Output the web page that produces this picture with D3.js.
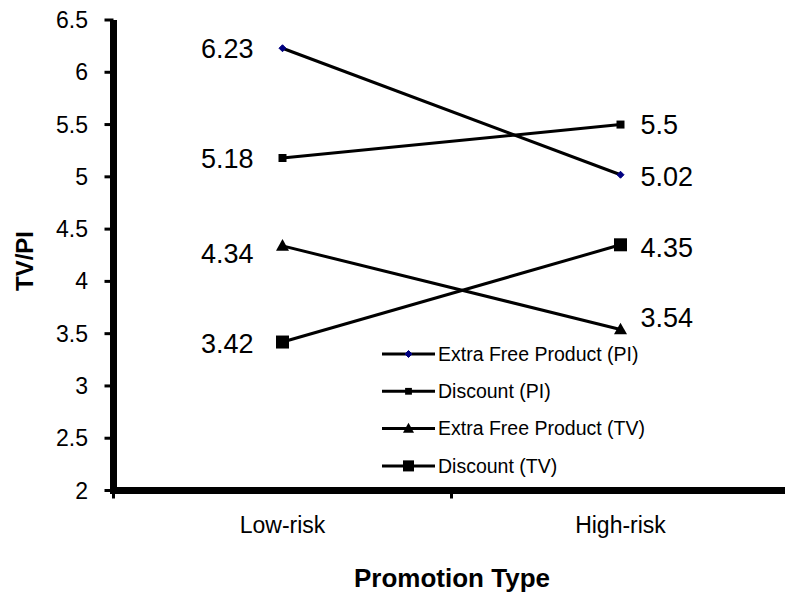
<!DOCTYPE html>
<html><head><meta charset="utf-8">
<script src="https://cdn.jsdelivr.net/npm/d3@7"></script>
<style>body{margin:0;background:#fff}svg{display:block}text{font-family:Arial,"Liberation Sans",sans-serif;fill:#000}</style>
</head><body><svg id="c" width="785" height="593"></svg>
<script>
const categories = ["Low-risk", "High-risk"];
const seriesNames = ["Extra Free Product (PI)", "Discount (PI)", "Extra Free Product (TV)", "Discount (TV)"];
const extraPI = [6.23, 5.02];
const discountPI = [5.18, 5.5];
const extraTV = [4.34, 3.54];
const discountTV = [3.42, 4.35];
const yTicks = [2, 2.5, 3, 3.5, 4, 4.5, 5, 5.5, 6, 6.5];

const series = [
  {name: seriesNames[0], values: extraPI, marker: "diamond", size: 7, fill: "#000080", ldy: [0, 2]},
  {name: seriesNames[1], values: discountPI, marker: "square", size: 8, fill: "#000", ldy: [0, 0]},
  {name: seriesNames[2], values: extraTV, marker: "triangle", size: 13, fill: "#000", ldy: [7, -12]},
  {name: seriesNames[3], values: discountTV, marker: "square", size: 13, fill: "#000", ldy: [1, 2]}
];

const svg = d3.select("#c");
const axX = 113.5, axY = 490.5;
const x = d3.scaleBand().domain(categories).range([axX, axX + 676]);
const y = d3.scaleLinear().domain([2, 6.5]).range([axY, 20]);

// y ticks
svg.append("g").selectAll("line").data(yTicks).join("line")
  .attr("x1", axX - 9).attr("x2", axX).attr("y1", d => y(d)).attr("y2", d => y(d))
  .attr("stroke", "#000").attr("stroke-width", 3);
svg.append("g").selectAll("text").data(yTicks).join("text")
  .attr("x", 88).attr("y", d => y(d)).attr("dy", "0.35em").attr("text-anchor", "end")
  .attr("font-size", 23).text(d => d);

// x ticks at band boundaries
const bounds = [x.range()[0], x("High-risk"), x.range()[1]];
svg.append("g").selectAll("line").data(bounds).join("line")
  .attr("x1", d => d).attr("x2", d => d).attr("y1", axY).attr("y2", axY + 8)
  .attr("stroke", "#000").attr("stroke-width", 3);

// axes lines
svg.append("line").attr("x1", axX).attr("x2", axX).attr("y1", 20).attr("y2", axY + 3.5)
  .attr("stroke", "#000").attr("stroke-width", 7);
svg.append("line").attr("x1", axX - 3.5).attr("x2", 790).attr("y1", axY).attr("y2", axY)
  .attr("stroke", "#000").attr("stroke-width", 7);

// category labels
svg.append("g").selectAll("text").data(categories).join("text")
  .attr("x", d => x(d) + x.bandwidth() / 2).attr("y", 533).attr("text-anchor", "middle")
  .attr("font-size", 23).text(d => d);

svg.append("text").attr("x", 452).attr("y", 587).attr("text-anchor", "middle")
  .attr("font-size", 26).attr("font-weight", "bold").text("Promotion Type");
svg.append("text").attr("transform", "translate(33,261) rotate(-90)").attr("text-anchor", "middle")
  .attr("font-size", 24).attr("font-weight", "bold").text("TV/PI");

function markerPath(type, size) {
  const s = size / 2;
  if (type === "diamond") return `M0,${-s}L${s},0L0,${s}L${-s},0Z`;
  if (type === "triangle") return `M0,${-s * 1.05}L${s},${s * 0.75}L${-s},${s * 0.75}Z`;
  return `M${-s},${-s}H${s}V${s}H${-s}Z`;
}
const cx = c => x(c) + x.bandwidth() / 2;
const line = d3.line().x((d, i) => cx(categories[i])).y(d => y(d));

series.forEach(s => {
  const g = svg.append("g");
  g.append("path").attr("d", line(s.values)).attr("fill", "none").attr("stroke", "#000").attr("stroke-width", 3);
  g.selectAll("path.m").data(s.values).join("path").attr("class", "m")
    .attr("transform", (d, i) => `translate(${cx(categories[i])},${y(d)})`)
    .attr("d", markerPath(s.marker, s.size)).attr("fill", s.fill)
    .attr("stroke", s.marker === "diamond" ? "#000080" : "none");
  g.selectAll("text").data(s.values).join("text")
    .attr("x", (d, i) => i === 0 ? cx(categories[i]) - 29 : cx(categories[i]) + 20)
    .attr("y", (d, i) => y(d) + s.ldy[i]).attr("dy", "0.36em")
    .attr("text-anchor", (d, i) => i === 0 ? "end" : "start")
    .attr("font-size", 27).text(d => d);
});

// legend
const lg = svg.append("g");
series.forEach((s, i) => {
  const ly = 354 + i * 37.3;
  lg.append("line").attr("x1", 382).attr("x2", 435).attr("y1", ly).attr("y2", ly)
    .attr("stroke", "#000").attr("stroke-width", 3);
  lg.append("path").attr("transform", `translate(408.5,${ly})`)
    .attr("d", markerPath(s.marker, s.size * (s.marker === "diamond" ? 1 : 0.85))).attr("fill", s.fill)
    .attr("stroke", s.marker === "diamond" ? "#000080" : "none");
  lg.append("text").attr("x", 438).attr("y", ly).attr("dy", "0.35em")
    .attr("font-size", 19.5).text(s.name);
});
</script></body></html>
